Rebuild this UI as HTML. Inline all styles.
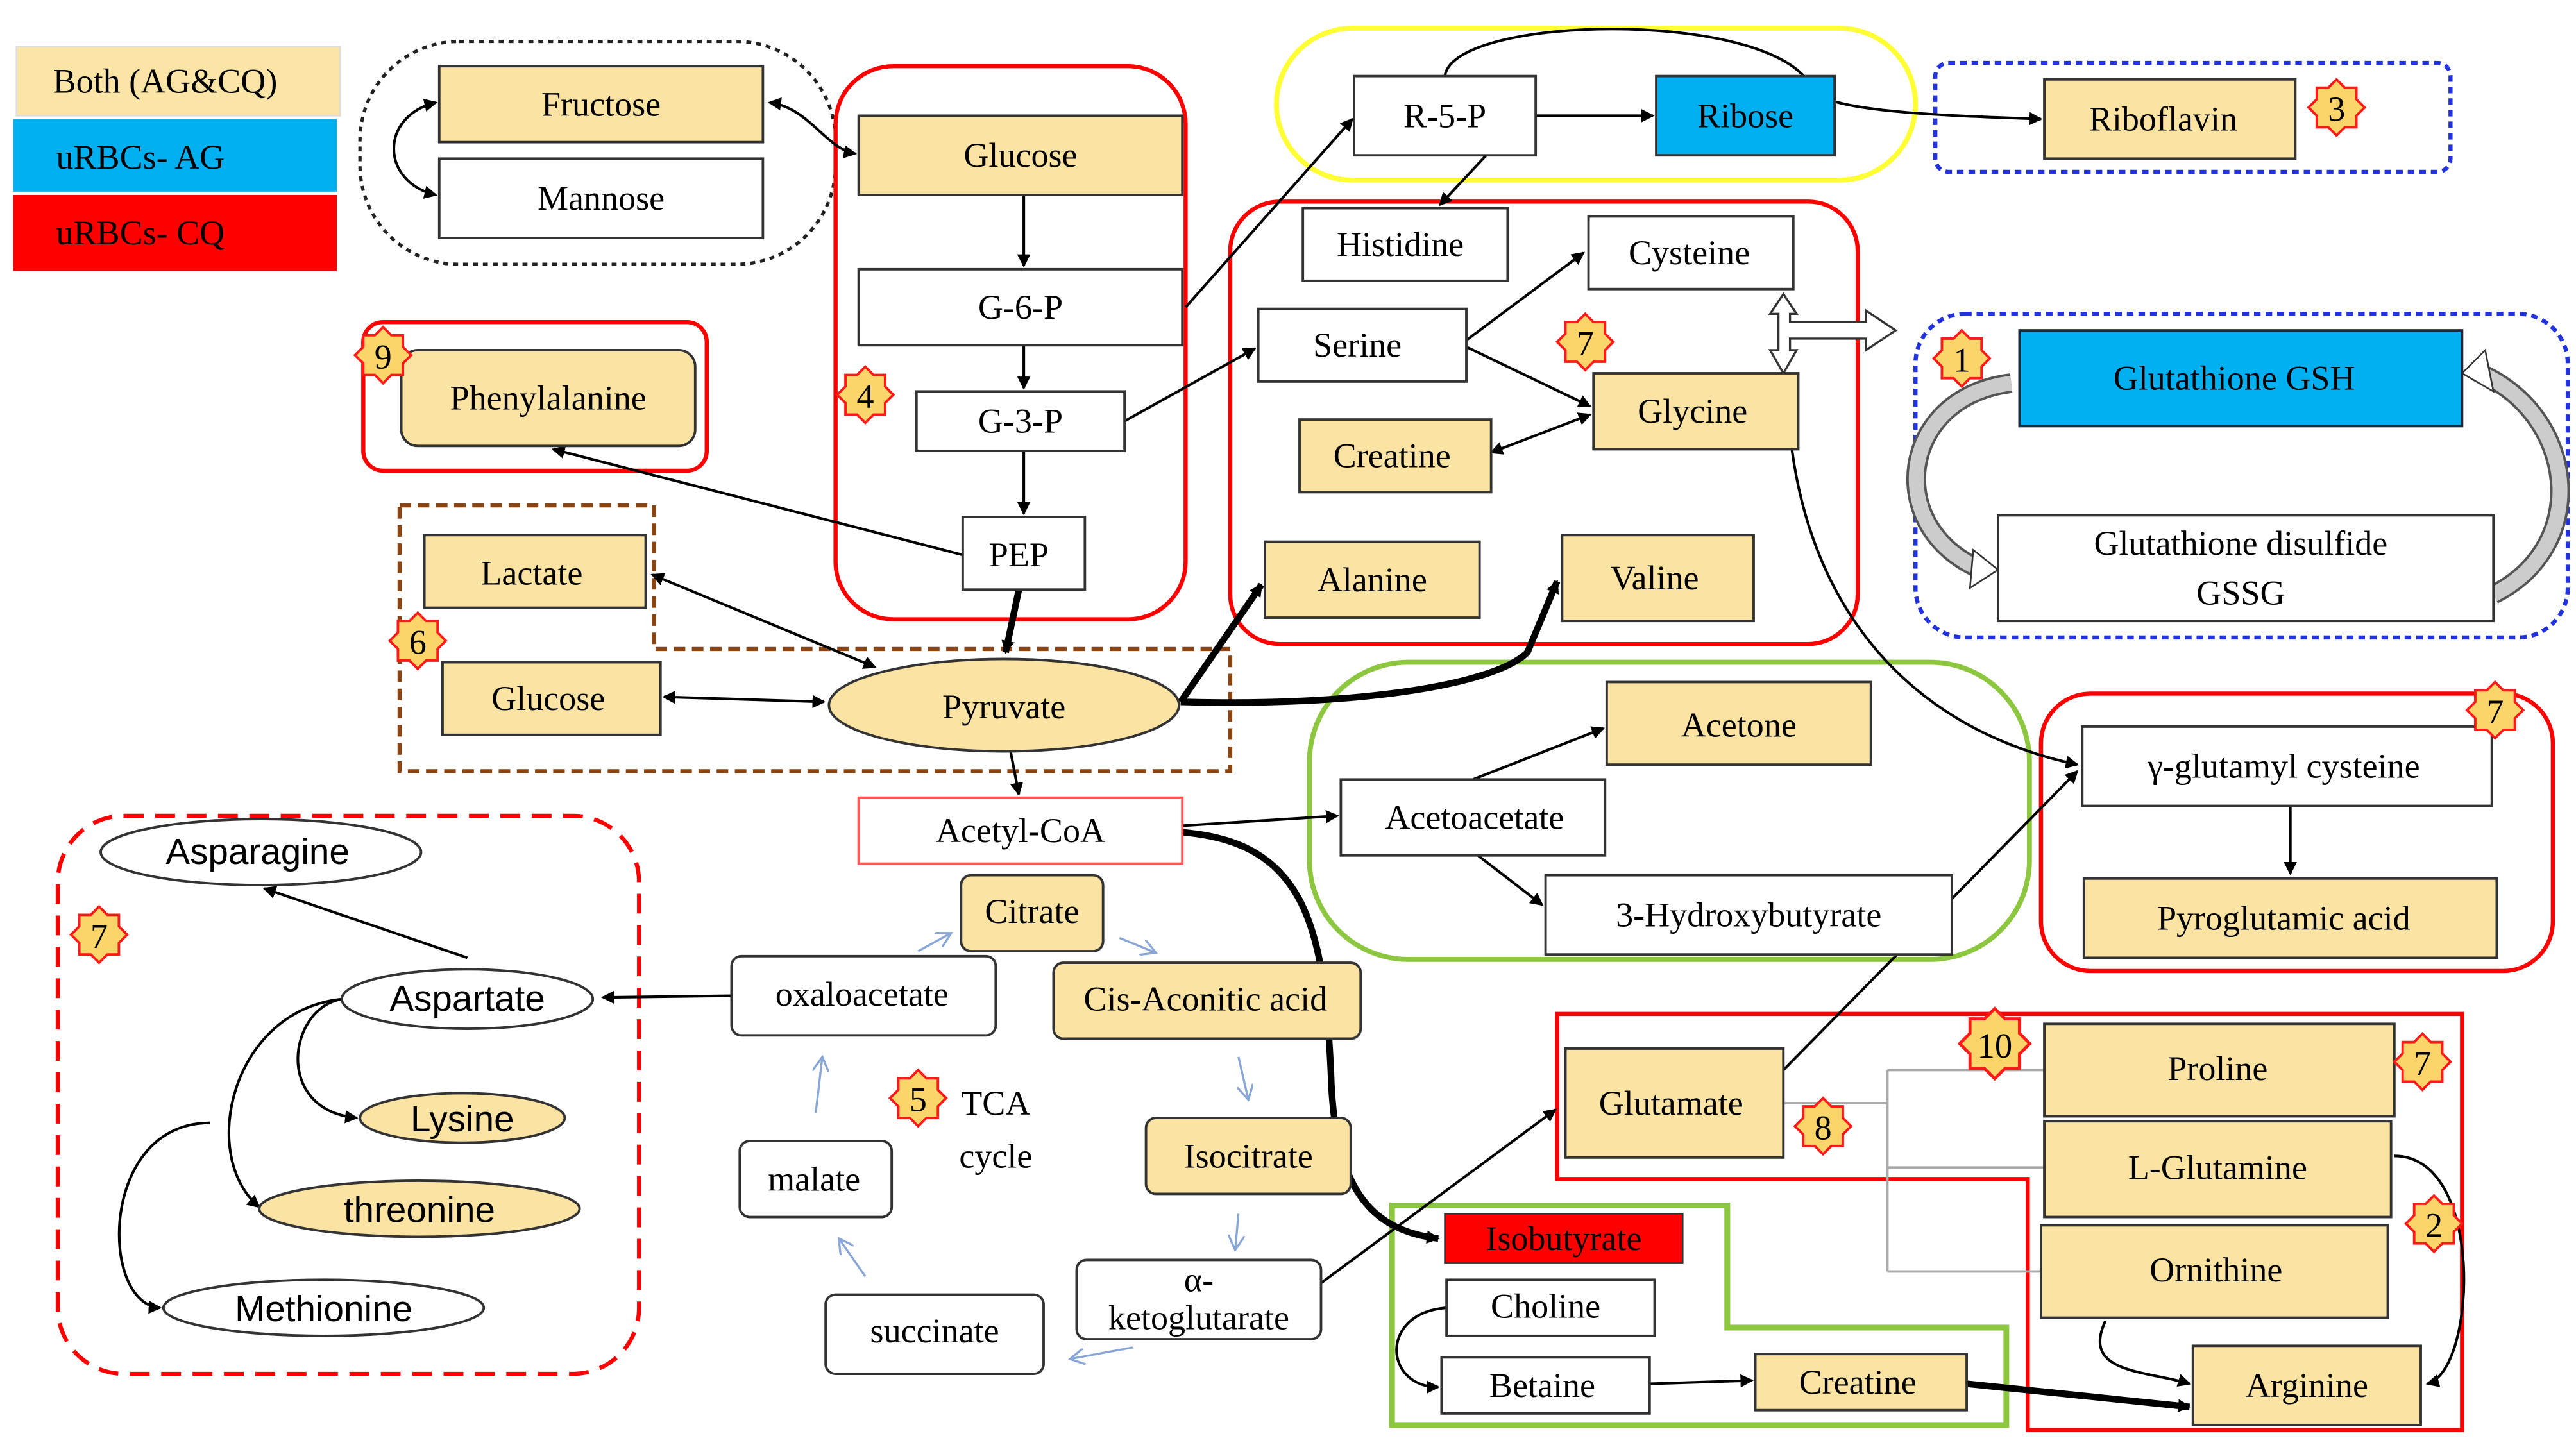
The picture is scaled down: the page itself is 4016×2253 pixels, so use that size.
<!DOCTYPE html>
<html><head><meta charset="utf-8"><style>
html,body{margin:0;padding:0;background:#fff;width:4016px;height:2253px;overflow:hidden}
svg{display:block}
text{font-family:"Liberation Serif",serif;font-size:21px;fill:#000;text-anchor:middle;dominant-baseline:central}
.s{font-family:"Liberation Sans",sans-serif;font-size:22px}
.y{fill:#fbe3a3;stroke:#333;stroke-width:1.5}
.w{fill:#fff;stroke:#333;stroke-width:1.5}
.a{stroke:#000;stroke-width:1.6;fill:none;marker-end:url(#ah)}
.t{stroke:#000;stroke-width:4;fill:none;marker-end:url(#ah)}
.l{stroke:#8aa6d6;stroke-width:1.3;fill:none;marker-end:url(#al)}
.st{fill:#fbd46a;stroke:#ff1a1a;stroke-width:1.5}
</style></head><body>
<svg width="4016" height="2253" viewBox="0 0 1560 875" xmlns="http://www.w3.org/2000/svg">
<defs>
<marker id="ah" markerWidth="8" markerHeight="8" refX="7" refY="4" orient="auto" markerUnits="userSpaceOnUse" viewBox="0 0 8 8"><path d="M0,0 L8,4 L0,8 z" fill="#000"/></marker>
<marker id="as" markerWidth="8" markerHeight="8" refX="1" refY="4" orient="auto" markerUnits="userSpaceOnUse" viewBox="0 0 8 8"><path d="M8,0 L0,4 L8,8 z" fill="#000"/></marker>
<marker id="al" markerWidth="10" markerHeight="10" refX="9" refY="5" orient="auto" markerUnits="userSpaceOnUse" viewBox="0 0 10 10"><path d="M0,0 L9,5 L0,10" fill="none" stroke="#8aa6d6" stroke-width="1.3"/></marker>
<g id="star"><polygon class="st" points="0,-17 5,-12 12,-12 12,-5 17,0 12,5 12,12 5,12 0,17 -5,12 -12,12 -12,5 -17,0 -12,-5 -12,-12 -5,-12"/></g>
</defs>

<!-- legend -->
<rect x="10" y="28" width="196" height="42" fill="#fbe5a6" stroke="#ddd"/><text x="100" y="49">Both (AG&amp;CQ)</text>
<rect x="8" y="72" width="196" height="44" fill="#00b0f0"/><text x="85" y="95">uRBCs- AG</text>
<rect x="8" y="118" width="196" height="46" fill="#ff0000"/><text x="85" y="141">uRBCs- CQ</text>

<!-- groups -->
<rect x="218" y="25" width="288" height="135" rx="60" fill="none" stroke="#222" stroke-width="2" stroke-dasharray="3,3"/>
<rect x="506" y="40" width="212" height="335" rx="35" fill="none" stroke="#f00" stroke-width="2.5"/>
<rect x="773" y="17" width="387" height="92" rx="46" fill="none" stroke="#ffff33" stroke-width="3"/>
<rect x="1172" y="38" width="312" height="66" rx="8" fill="none" stroke="#2233dd" stroke-width="2.5" stroke-dasharray="4,3"/>
<rect x="745" y="122" width="380" height="268" rx="30" fill="none" stroke="#f00" stroke-width="2.5"/>
<rect x="1160" y="190" width="395" height="196" rx="30" fill="none" stroke="#2233dd" stroke-width="2.5" stroke-dasharray="4,3"/>
<rect x="220" y="195" width="208" height="90" rx="12" fill="none" stroke="#f00" stroke-width="2.5"/>
<path d="M242,306 L396,306 L396,393 L745,393 L745,467 L242,467 Z" fill="none" stroke="#8b4513" stroke-width="2.5" stroke-dasharray="7,4"/>
<rect x="793" y="401" width="436" height="180" rx="60" fill="none" stroke="#8dc63f" stroke-width="3"/>
<rect x="1236" y="420" width="310" height="168" rx="30" fill="none" stroke="#f00" stroke-width="2.5"/>
<rect x="35" y="494" width="352" height="338" rx="40" fill="none" stroke="#f00" stroke-width="2.5" stroke-dasharray="12,7"/>
<path d="M943,614 L1491,614 L1491,866 L1228,866 L1228,714 L943,714 Z" fill="none" stroke="#f00" stroke-width="2.5"/>
<path d="M843,730 L1046,730 L1046,804 L1215,804 L1215,863 L843,863 Z" fill="none" stroke="#8dc63f" stroke-width="3.5"/>

<!-- gray bracket lines -->
<path d="M1080,668 L1143,668 M1143,648 L1143,770 M1143,648 L1238,648 M1143,707 L1238,707 M1143,770 L1236,770" stroke="#aaa" stroke-width="1.5" fill="none"/>

<!-- hollow arrows -->
<path d="M1218,232 C1150,240 1140,320 1200,345" stroke="#555" stroke-width="12" fill="none"/>
<path d="M1218,232 C1150,240 1140,320 1200,345" stroke="#ccc" stroke-width="9" fill="none"/>
<polygon points="1195,333 1210,345 1193,356" fill="#fff" stroke="#333"/>
<path d="M1510,360 C1570,330 1560,250 1500,225" stroke="#555" stroke-width="12" fill="none"/>
<path d="M1510,360 C1570,330 1560,250 1500,225" stroke="#ccc" stroke-width="9" fill="none"/>
<polygon points="1505,212 1491,226 1510,237" fill="#fff" stroke="#333"/>
<path d="M1080,178 L1072,190 L1077,190 L1077,212 L1072,212 L1080,226 L1088,212 L1084,212 L1084,205 L1130,205 L1130,212 L1148,200 L1130,188 L1130,195 L1084,195 L1084,190 L1088,190 Z" fill="#fff" stroke="#333" stroke-width="1.3"/>

<!-- connectors -->
<path class="a" d="M466,62 C490,65 500,90 518,93" marker-start="url(#as)"/>
<path class="a" d="M264,62 C230,70 230,110 264,118" marker-start="url(#as)"/>
<path class="a" d="M620,118 L620,161"/>
<path class="a" d="M620,209 L620,235"/>
<path class="a" d="M620,273 L620,311"/>
<path class="t" d="M617,357 L609,395"/>
<path class="a" d="M718,186 L819,72"/>
<path class="a" d="M681,255 L760,211"/>
<path class="a" d="M583,336 L335,272"/>
<path class="a" d="M930,70 L1001,70"/>
<path class="a" d="M875,46 C880,8 1080,5 1098,55 C1110,68 1180,70 1236,72" stroke-width="2"/>
<path class="a" d="M900,94 L872,124"/>
<path class="a" d="M888,206 L959,153"/>
<path class="a" d="M888,210 L963,246"/>
<path class="a" d="M903,274 L963,251" marker-start="url(#as)"/>
<path class="a" d="M395,348 L530,404" marker-start="url(#as)"/>
<path class="a" d="M402,422 L499,425" marker-start="url(#as)"/>
<path class="t" d="M715,425 L764,354"/>
<path class="t" d="M715,425 C820,428 905,415 925,395 L943,352"/>
<path class="a" d="M612,455 L617,481"/>
<path class="a" d="M716,500 L810,494"/>
<path class="a" d="M892,472 L971,441"/>
<path class="a" d="M895,518 L934,548"/>
<path class="t" d="M716,504 C790,510 802,560 806,650 C808,720 830,745 871,750"/>
<path class="a" d="M1083,250 C1090,360 1150,440 1258,463"/>
<path class="a" d="M1080,648 L1258,467"/>
<path class="a" d="M1387,488 L1387,529"/>
<path class="a" d="M800,777 L942,672"/>
<path class="a" d="M283,580 L160,538"/>
<path class="a" d="M443,603 L365,604"/>
<path class="a" d="M207,605 C175,610 165,672 216,677"/>
<path class="a" d="M207,605 C140,612 120,700 157,731"/>
<path class="a" d="M127,680 C60,680 60,790 97,792"/>
<path class="a" d="M1450,700 C1505,700 1500,830 1470,838"/>
<path class="a" d="M1275,800 C1260,832 1300,830 1326,838"/>
<path class="t" d="M1191,838 L1326,852"/>
<path class="a" d="M999,838 L1061,836"/>
<path class="a" d="M876,792 C835,795 838,840 871,840"/>
<path class="l" d="M556,576 L576,565"/>
<path class="l" d="M678,568 L700,577"/>
<path class="l" d="M750,640 L756,666"/>
<path class="l" d="M750,735 L748,757"/>
<path class="l" d="M686,816 L648,823"/>
<path class="l" d="M524,773 L508,750"/>
<path class="l" d="M494,674 L498,640"/>

<!-- nodes -->
<rect class="y" x="266" y="40" width="196" height="46"/><text x="364" y="63">Fructose</text>
<rect class="w" x="266" y="96" width="196" height="48"/><text x="364" y="120">Mannose</text>
<rect class="y" x="520" y="70" width="196" height="48"/><text x="618" y="94">Glucose</text>
<rect class="w" x="520" y="163" width="196" height="46"/><text x="618" y="186">G-6-P</text>
<rect class="w" x="555" y="237" width="126" height="36"/><text x="618" y="255">G-3-P</text>
<rect class="w" x="583" y="313" width="74" height="44"/><text x="617" y="336">PEP</text>
<rect class="w" x="820" y="46" width="110" height="48"/><text x="875" y="70">R-5-P</text>
<rect x="1003" y="46" width="108" height="48" fill="#00b0f0" stroke="#333" stroke-width="1.5"/><text x="1057" y="70">Ribose</text>
<rect class="y" x="1238" y="48" width="152" height="48"/><text x="1310" y="72">Riboflavin</text>
<rect class="w" x="789" y="126" width="124" height="44"/><text x="848" y="148">Histidine</text>
<rect class="w" x="962" y="131" width="124" height="44"/><text x="1023" y="153">Cysteine</text>
<rect class="w" x="762" y="187" width="126" height="44"/><text x="822" y="209">Serine</text>
<rect class="y" x="965" y="226" width="124" height="46"/><text x="1025" y="249">Glycine</text>
<rect class="y" x="787" y="254" width="116" height="44"/><text x="843" y="276">Creatine</text>
<rect class="y" x="766" y="328" width="130" height="46"/><text x="831" y="351">Alanine</text>
<rect class="y" x="946" y="324" width="116" height="52"/><text x="1002" y="350">Valine</text>
<rect x="1223" y="200" width="268" height="58" fill="#00b0f0" stroke="#1a2a3a" stroke-width="1.5"/><text x="1353" y="229">Glutathione GSH</text>
<rect class="w" x="1210" y="312" width="300" height="64"/><text x="1357" y="329">Glutathione disulfide</text><text x="1357" y="359">GSSG</text>
<rect class="y" x="243" y="212" width="178" height="58" rx="10"/><text x="332" y="241">Phenylalanine</text>
<rect class="y" x="257" y="324" width="134" height="44"/><text x="322" y="347">Lactate</text>
<rect class="y" x="268" y="401" width="132" height="44"/><text x="332" y="423">Glucose</text>
<ellipse class="y" cx="608" cy="427" rx="106" ry="28"/><text x="608" y="428">Pyruvate</text>
<rect x="520" y="483" width="196" height="40" fill="#fff" stroke="#f55" stroke-width="1.5"/><text x="618" y="503">Acetyl-CoA</text>
<rect class="y" x="973" y="413" width="160" height="50"/><text x="1053" y="439">Acetone</text>
<rect class="w" x="812" y="472" width="160" height="46"/><text x="893" y="495">Acetoacetate</text>
<rect class="w" x="936" y="530" width="246" height="48"/><text x="1059" y="554">3-Hydroxybutyrate</text>
<rect class="w" x="1261" y="440" width="248" height="48"/><text x="1383" y="464">γ-glutamyl cysteine</text>
<rect class="y" x="1262" y="532" width="250" height="48"/><text x="1383" y="556">Pyroglutamic acid</text>
<ellipse class="w" cx="158" cy="516" rx="97" ry="20"/><text class="s" x="156" y="516">Asparagine</text>
<ellipse class="w" cx="283" cy="605" rx="76" ry="18"/><text class="s" x="283" y="605">Aspartate</text>
<ellipse class="y" cx="280" cy="677" rx="62" ry="15"/><text class="s" x="280" y="678">Lysine</text>
<ellipse class="y" cx="254" cy="732" rx="97" ry="17"/><text class="s" x="254" y="733">threonine</text>
<ellipse class="w" cx="196" cy="792" rx="97" ry="17"/><text class="s" x="196" y="793">Methionine</text>
<rect class="y" x="582" y="530" width="86" height="46" rx="6"/><text x="625" y="552">Citrate</text>
<rect class="w" x="443" y="579" width="160" height="48" rx="6"/><text x="522" y="602">oxaloacetate</text>
<rect class="y" x="638" y="583" width="186" height="46" rx="6"/><text x="730" y="605">Cis-Aconitic acid</text>
<rect class="y" x="694" y="677" width="124" height="46" rx="6"/><text x="756" y="700">Isocitrate</text>
<rect class="w" x="652" y="763" width="148" height="48" rx="6"/><text x="726" y="775">α-</text><text x="726" y="798">ketoglutarate</text>
<rect class="w" x="500" y="784" width="132" height="48" rx="6"/><text x="566" y="806">succinate</text>
<rect class="w" x="448" y="691" width="92" height="46" rx="6"/><text x="493" y="714">malate</text>
<text x="603" y="668">TCA</text><text x="603" y="700">cycle</text>
<rect class="y" x="948" y="635" width="132" height="66"/><text x="1012" y="668">Glutamate</text>
<rect class="y" x="1238" y="620" width="212" height="56"/><text x="1343" y="647">Proline</text>
<rect class="y" x="1238" y="679" width="210" height="58"/><text x="1343" y="707">L-Glutamine</text>
<rect class="y" x="1236" y="742" width="210" height="56"/><text x="1342" y="769">Ornithine</text>
<rect class="y" x="1328" y="815" width="138" height="48"/><text x="1397" y="839">Arginine</text>
<rect x="875" y="735" width="144" height="30" fill="#ff0000" stroke="#333" stroke-width="1"/><text x="947" y="750">Isobutyrate</text>
<rect class="w" x="876" y="775" width="126" height="34"/><text x="936" y="791">Choline</text>
<rect class="w" x="873" y="822" width="126" height="34"/><text x="934" y="839">Betaine</text>
<rect class="y" x="1063" y="820" width="128" height="34"/><text x="1125" y="837">Creatine</text>

<!-- stars -->
<g transform="translate(1415,65)"><use href="#star"/><text y="1">3</text></g>
<g transform="translate(960,207)"><use href="#star"/><text y="1">7</text></g>
<g transform="translate(1188,217)"><use href="#star"/><text y="1">1</text></g>
<g transform="translate(232,215)"><use href="#star"/><text y="1">9</text></g>
<g transform="translate(524,239)"><use href="#star"/><text y="1">4</text></g>
<g transform="translate(253,388)"><use href="#star"/><text y="1">6</text></g>
<g transform="translate(1511,430)"><use href="#star"/><text y="1">7</text></g>
<g transform="translate(60,566)"><use href="#star"/><text y="1">7</text></g>
<g transform="translate(556,665)"><use href="#star"/><text y="1">5</text></g>
<g transform="translate(1104,682)"><use href="#star"/><text y="1">8</text></g>
<g transform="translate(1208,632) scale(1.25)"><use href="#star"/><text y="1" style="font-size:17px">10</text></g>
<g transform="translate(1467,643)"><use href="#star"/><text y="1">7</text></g>
<g transform="translate(1474,741)"><use href="#star"/><text y="1">2</text></g>
</svg>
</body></html>
